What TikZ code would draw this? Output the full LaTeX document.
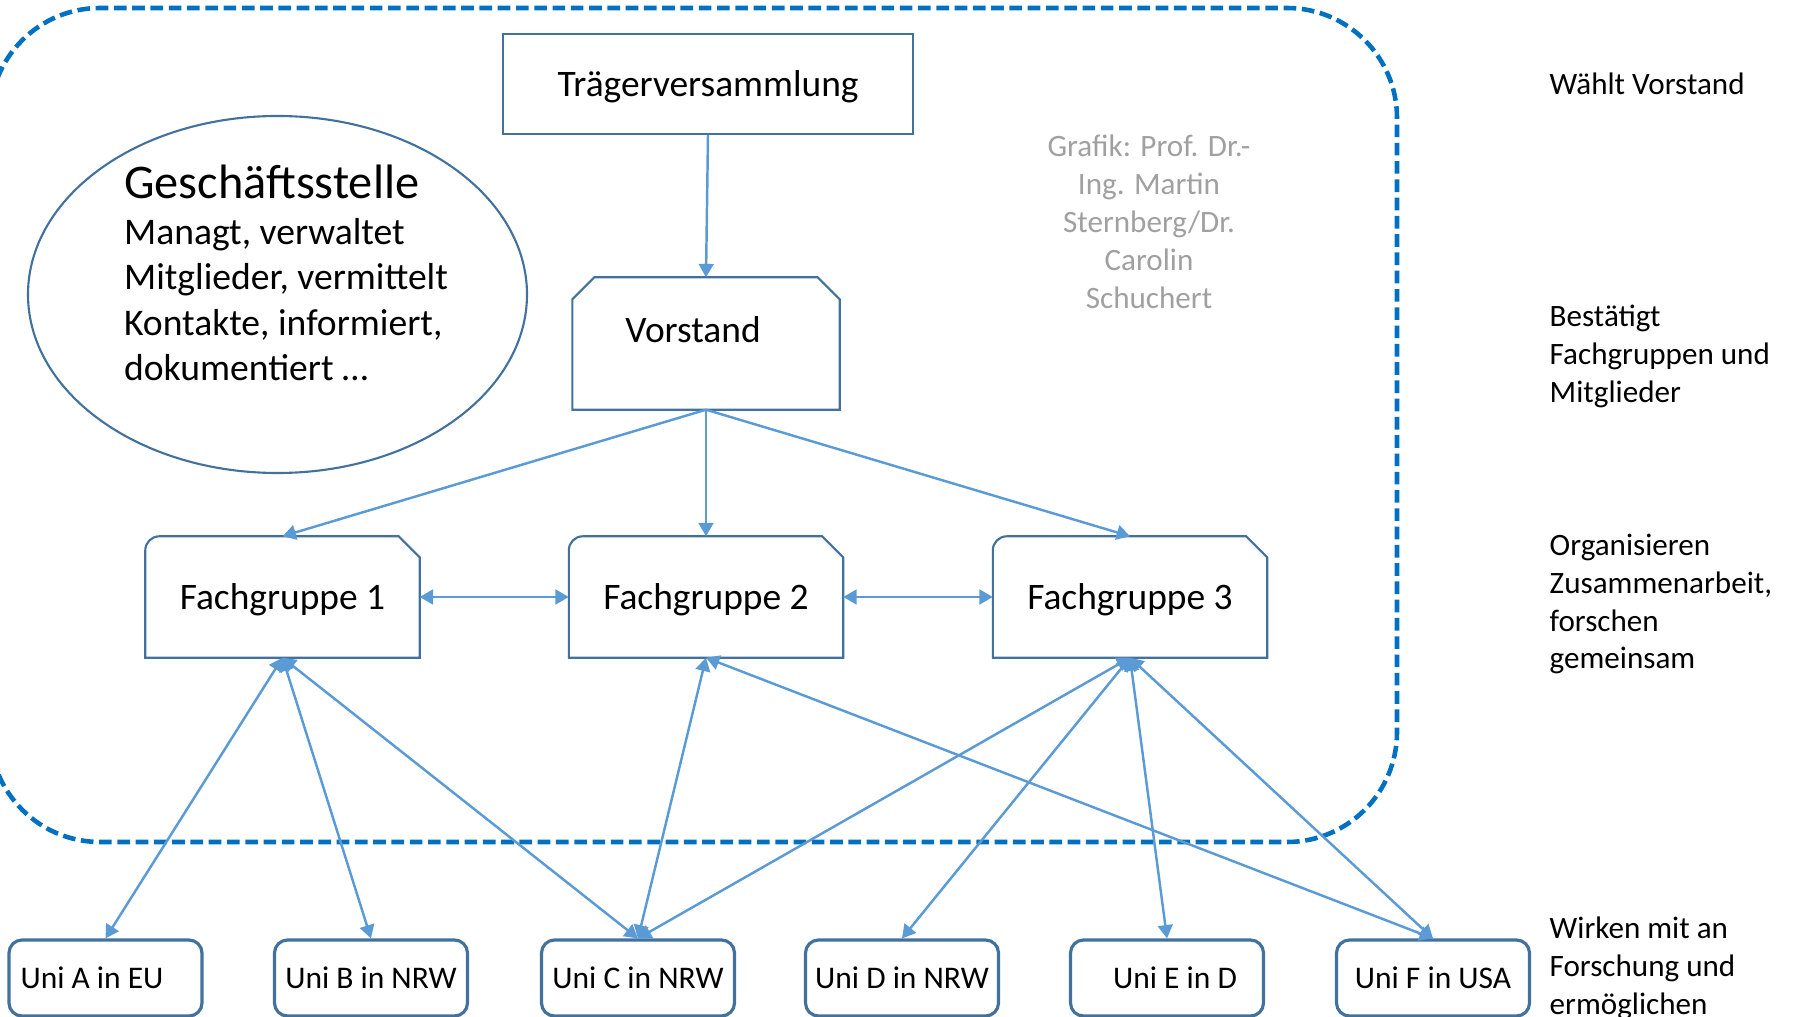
\documentclass[tikz,border=0pt]{standalone}
\usepackage{fontspec}
\setmainfont{Carlito}
\usetikzlibrary{shapes.geometric,arrows.meta}

\definecolor{boxblue}{RGB}{65,113,156}
\definecolor{linkblue}{RGB}{91,155,213}
\definecolor{frameblue}{RGB}{0,112,192}
\definecolor{notegray}{RGB}{160,160,160}

\tikzset{
  boxline/.style={draw=boxblue, line width=0.6pt},
  plainbox/.style={inner sep=0pt, font=\fontsize{10.65}{12.9}\selectfont},
  unibox/.style={draw=boxblue, line width=0.9pt, rounded corners=0.13cm,
    minimum width=1.93cm, minimum height=0.76cm, inner sep=0pt,
    font=\fontsize{8.96}{10.9}\selectfont},
  link/.style={draw=linkblue, line width=0.7pt},
  sidenote/.style={anchor=north west, align=left, inner sep=0pt,
    font=\fontsize{8.85}{10.8}\selectfont},
  dashframe/.style={draw=frameblue, line width=1.3pt, dash pattern=on 3.6pt off 1.6pt,
    rounded corners=1.1cm}
}

\begin{document}
\begin{tikzpicture}[>={Triangle[length=3.8pt,width=4.2pt]}]
    \useasboundingbox (0,0) rectangle (17.96,-10.17);
    \clip (0,0) rectangle (17.96,-10.17);

    % frame
    \draw[dashframe] (-0.10,-0.08) rectangle (13.97,-8.42);

    % Traegerversammlung
    \node[plainbox, boxline, minimum width=4.10cm, minimum height=1.00cm, text depth=0pt] (trag) at (7.08,-0.84) {Trägerversammlung};

    % Vorstand
    \node[plainbox, minimum width=2.66cm, minimum height=1.31cm, text depth=0.27cm] (vor) at (7.06,-3.435) {Vorstand\kern0.26cm};
    \draw[boxline] (vor.south west) -- ([yshift=-0.22cm]vor.north west) -- ([xshift=0.22cm]vor.north west)
      -- ([xshift=-0.22cm]vor.north east) -- ([yshift=-0.22cm]vor.north east) -- (vor.south east) -- cycle;

    % Geschaeftsstelle
    \node[ellipse, boxline, minimum width=4.99cm, minimum height=3.57cm, inner sep=0pt] (gs) at (2.775,-2.945) {};
    \node[align=left, inner sep=0pt, font=\fontsize{10.7}{12.95}\selectfont] (gstext) at (2.86,-2.73)
      {{\fontsize{13.75}{16}\selectfont Geschäftsstelle}\\Managt, verwaltet\\Mitglieder, vermittelt\\Kontakte, informiert,\\dokumentiert …};

    % credit
    \node[align=center, inner sep=0pt, text=notegray, font=\fontsize{8.85}{10.8}\selectfont] (credit) at (11.49,-2.22)
      {Grafik: Prof. Dr.-\\Ing. Martin\\Sternberg/Dr.\\Carolin\\Schuchert};

    % Fachgruppen
    \foreach \n/\x/\t in {fg1/2.825/1, fg2/7.06/2, fg3/11.30/3} {
      \node[plainbox, minimum width=2.73cm, minimum height=1.20cm, text depth=0pt] (\n) at (\x,-5.97) {Fachgruppe \t};
      \draw[boxline] (\n.south west) -- ([yshift=-0.14cm]\n.north west) arc[start angle=180, end angle=90, radius=0.14cm]
        -- ([xshift=-0.21cm]\n.north east) -- ([yshift=-0.21cm]\n.north east) -- (\n.south east) -- cycle;
    }

    % Unis
    \foreach \n/\x/\t in {unia/1.055/Uni A in EU\kern0.27cm, unib/3.71/Uni B in NRW, unic/6.38/Uni C in NRW,
                          unid/9.02/Uni D in NRW, unie/11.67/\hspace*{0.16cm}Uni E in D, unif/14.33/Uni F in USA}
      \node[unibox] (\n) at (\x,-9.78) {\t};

    % levels
    \node[sidenote] (lvl1) at (15.49,-0.72) {Wählt Vorstand};
    \node[sidenote] (lvl2) at (15.49,-3.04) {Bestätigt\\Fachgruppen und\\Mitglieder};
    \node[sidenote] (lvl3) at (15.49,-5.33) {Organisieren\\Zusammenarbeit,\\forschen\\gemeinsam};
    \node[sidenote] (lvl4) at (15.49,-9.16) {Wirken mit an\\Forschung und\\ermöglichen};

    % links
    \draw[link,->] (trag.south) -- (vor.north);
    \foreach \f in {fg1,fg2,fg3}
      \draw[link,->] (vor.south) -- (\f.north);
    \draw[link,<->] (fg1.east) -- (fg2.west);
    \draw[link,<->] (fg2.east) -- (fg3.west);
    \foreach \f/\u in {fg1/unia, fg1/unib, fg1/unic, fg2/unic, fg2/unif,
                       fg3/unic, fg3/unid, fg3/unie, fg3/unif}
      \draw[link,<->] (\f.south) -- (\u.north);
\end{tikzpicture}
\end{document}
